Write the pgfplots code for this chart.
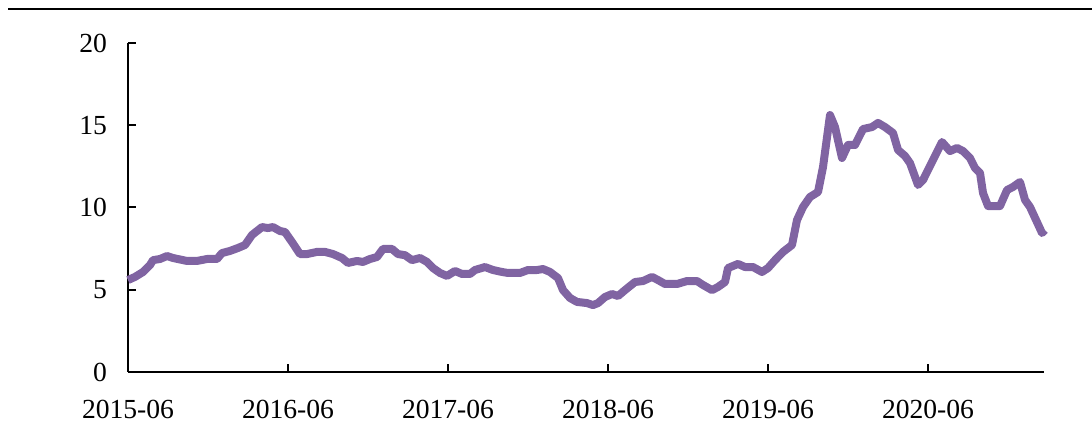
\documentclass[border=0pt]{standalone}
\usepackage{fontspec}
\setmainfont{Liberation Serif}
\usepackage{pgfplots}
\pgfplotsset{compat=1.18}

\definecolor{linepurple}{RGB}{128,100,162}

% x = months since 2015-06, y = value
\pgfplotstableread{
x y
0 5.59
0.525 5.78
1.125 6.08
1.65 6.50
1.875 6.80
2.4 6.87
2.925 7.05
3.375 6.93
4.425 6.75
5.175 6.75
5.925 6.87
6.675 6.87
7.05 7.23
7.65 7.36
8.25 7.54
8.775 7.72
9.3 8.33
10.05 8.81
10.5 8.75
10.875 8.81
11.4 8.57
11.775 8.51
12.3 7.90
12.9 7.17
13.425 7.17
14.175 7.30
14.775 7.30
15.375 7.17
16.05 6.93
16.5 6.63
17.175 6.75
17.625 6.69
18.15 6.87
18.675 6.99
19.125 7.48
19.8 7.48
20.25 7.17
20.775 7.10
21.3 6.80
21.9 6.93
22.425 6.69
22.875 6.32
23.4 6.02
23.925 5.84
24.525 6.14
25.05 5.96
25.65 5.96
26.025 6.20
26.775 6.38
27.375 6.20
28.05 6.08
28.5 6.02
29.4 6.02
30.0 6.20
30.675 6.20
31.125 6.26
31.65 6.08
32.25 5.71
32.625 4.98
33.15 4.50
33.675 4.26
34.425 4.19
34.875 4.07
35.25 4.19
35.775 4.56
36.3 4.74
36.75 4.62
37.275 4.98
38.025 5.47
38.625 5.53
39.3 5.78
39.75 5.59
40.275 5.35
41.175 5.35
41.925 5.53
42.675 5.53
43.125 5.29
43.8 4.98
44.25 5.17
44.775 5.47
45.0 6.32
45.75 6.57
46.275 6.38
46.875 6.38
47.55 6.08
48.0 6.32
48.525 6.80
49.125 7.30
49.8 7.72
50.175 9.24
50.625 10.03
51.15 10.64
51.75 10.94
52.125 12.46
52.65 15.62
53.025 14.89
53.55 13.01
54.0 13.80
54.525 13.80
55.125 14.77
55.8 14.89
56.25 15.14
56.775 14.89
57.375 14.53
57.75 13.50
58.275 13.13
58.65 12.70
59.25 11.37
59.625 11.67
60.375 12.89
61.05 13.98
61.65 13.43
62.175 13.62
62.625 13.43
63.15 13.01
63.525 12.40
63.9 12.10
64.125 10.88
64.5 10.09
65.4 10.09
65.925 11.06
66.375 11.25
66.9 11.55
67.275 10.46
67.65 10.03
68.55 8.45
68.775 8.63
}\datatable

\begin{document}
\begin{tikzpicture}
\path[use as bounding box] (0,0) rectangle (546pt,219.5pt);
\draw[line width=1.2pt] (4pt,215pt) -- (546pt,215pt);
\begin{axis}[
  at={(64pt,33.5pt)}, anchor=south west,
  scale only axis,
  width=458pt, height=164.5pt,
  xmin=0, xmax=68.7,
  ymin=0, ymax=20,
  axis x line*=bottom, axis y line*=left,
  axis line style={-, line width=1pt},
  tick align=inside,
  major tick length=4pt,
  tick style={line width=1pt, black},
  xtick={0,12,24,36,48,60},
  xticklabels={2015-06,2016-06,2017-06,2018-06,2019-06,2020-06},
  ytick={0,5,10,15,20},
  x tick label style={yshift=-10.5pt},
  y tick label style={xshift=-7pt},
  tick label style={font=\fontsize{13.8}{16}\selectfont},
  /pgf/number format/assume math mode=true,
  clip=false,
]
\addplot[color=linepurple, line width=4pt, line join=round] table[x=x, y=y] {\datatable};
\end{axis}
\end{tikzpicture}
\end{document}
